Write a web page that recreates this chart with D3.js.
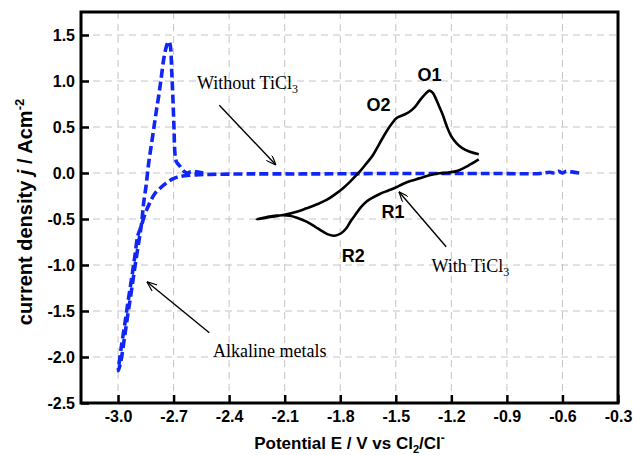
<!DOCTYPE html>
<html>
<head>
<meta charset="utf-8">
<script src="https://cdn.jsdelivr.net/npm/d3@7"></script>
<style>
  html, body { margin: 0; padding: 0; background: #fff; }
  svg { display: block; }
</style>
</head>
<body>
<div id="chart"></div>
<script>
// potential E (V vs Cl2/Cl-) and current density j (A cm^-2)
// blank melt, scan from -0.5 V to -3.0 V and back
const blankE = [-0.51, -0.55, -0.58, -0.60, -0.62, -0.64, -0.67, -0.72, -1.0, -1.5, -2.0, -2.3, -2.5,
  -2.58, -2.64, -2.68, -2.71, -2.74, -2.77, -2.80, -2.83, -2.855, -2.875, -2.893, -2.909, -2.927,
  -2.946, -2.964, -2.983, -2.998,
  -2.985, -2.966, -2.948, -2.929, -2.911, -2.892, -2.873, -2.862, -2.848, -2.835, -2.822, -2.808,
  -2.795, -2.781, -2.767, -2.754, -2.741, -2.731, -2.725, -2.719, -2.715, -2.710, -2.704, -2.698,
  -2.692, -2.684, -2.664, -2.645, -2.628, -2.605, -2.575, -2.54];
const blankJ = [0.0, 0.012, 0.02, 0.0, 0.018, 0.0, 0.008, -0.005, -0.005, -0.005, -0.01, -0.01, -0.015,
  -0.02, -0.03, -0.045, -0.07, -0.11, -0.16, -0.22, -0.33, -0.45, -0.58, -0.68, -0.90, -1.15,
  -1.40, -1.65, -1.90, -2.15,
  -2.05, -1.80, -1.55, -1.30, -1.05, -0.80, -0.55, -0.33, -0.13, 0.10, 0.28, 0.47,
  0.65, 0.83, 1.03, 1.23, 1.36, 1.42, 1.43, 1.40, 1.34, 1.10, 0.83, 0.50,
  0.20, 0.12, 0.07, 0.02, 0.0, 0.015, 0.012, 0.0];

// melt with TiCl3, scan from -1.05 V to -2.25 V and back
const ticlE = [-1.052, -1.10, -1.165, -1.215, -1.264, -1.318, -1.372, -1.417, -1.462, -1.497, -1.54,
  -1.587, -1.625, -1.659, -1.688, -1.713, -1.742, -1.767, -1.795, -1.830, -1.862, -1.893, -1.935,
  -1.982, -2.030, -2.072, -2.144, -2.20, -2.251,
  -2.20, -2.108, -2.04, -1.982, -1.925, -1.874, -1.83, -1.785, -1.74, -1.695, -1.66, -1.623,
  -1.588, -1.551, -1.52, -1.497, -1.46, -1.43, -1.40, -1.37, -1.34, -1.318, -1.30, -1.282,
  -1.265, -1.246, -1.225, -1.201, -1.17, -1.139, -1.10, -1.052];
const ticlJ = [0.149, 0.09, 0.025, 0.005, -0.003, -0.025, -0.058, -0.085, -0.120, -0.155, -0.19,
  -0.228, -0.268, -0.312, -0.37, -0.438, -0.52, -0.601, -0.655, -0.682, -0.67, -0.638, -0.585,
  -0.529, -0.49, -0.464, -0.462, -0.48, -0.503,
  -0.485, -0.457, -0.425, -0.384, -0.34, -0.293, -0.235, -0.166, -0.08, 0.014, 0.10, 0.196,
  0.32, 0.449, 0.54, 0.595, 0.63, 0.66, 0.71, 0.79, 0.86, 0.895, 0.87, 0.80,
  0.72, 0.63, 0.51, 0.40, 0.32, 0.268, 0.23, 0.203];

const xTicks = [-3.0, -2.7, -2.4, -2.1, -1.8, -1.5, -1.2, -0.9, -0.6, -0.3];
const yTicks = [1.5, 1.0, 0.5, 0.0, -0.5, -1.0, -1.5, -2.0, -2.5];

const width = 633, height = 455;
const margin = {top: 12, right: 15, bottom: 52, left: 81};

const svg = d3.select("#chart").append("svg")
    .attr("width", width)
    .attr("height", height);

const x = d3.scaleLinear().domain([-3.2, -0.3]).range([margin.left, width - margin.right]);
const y = d3.scaleLinear().domain([-2.5, 1.75]).range([height - margin.bottom, margin.top]);

const sans = "'Liberation Sans', Arial, sans-serif";
const serif = "'Liberation Serif', 'Times New Roman', serif";

// grid
svg.append("g").selectAll("line")
    .data(xTicks.filter(d => d > -3.2 && d < -0.3))
    .join("line")
    .attr("x1", d => x(d)).attr("x2", d => x(d))
    .attr("y1", y.range()[1]).attr("y2", y.range()[0])
    .attr("stroke", "#c4c4c4")
    .attr("stroke-dasharray", "7,5");

svg.append("g").selectAll("line")
    .data(yTicks.filter(d => d > -2.5))
    .join("line")
    .attr("x1", x.range()[0]).attr("x2", x.range()[1])
    .attr("y1", d => y(d)).attr("y2", d => y(d))
    .attr("stroke", "#c4c4c4")
    .attr("stroke-dasharray", "7,5");

// axes (ticks point inwards)
const fmt = d => d.toFixed(1);

const xAxis = svg.append("g")
    .attr("transform", `translate(0,${y.range()[0]})`)
    .call(d3.axisBottom(x).tickValues(xTicks).tickFormat(fmt).tickSizeInner(-8).tickSizeOuter(0).tickPadding(8));

const yAxis = svg.append("g")
    .attr("transform", `translate(${x.range()[0]},0)`)
    .call(d3.axisLeft(y).tickValues(yTicks).tickFormat(fmt).tickSizeInner(-8).tickSizeOuter(0).tickPadding(6));

[xAxis, yAxis].forEach(a => {
    a.select(".domain").remove();
    a.selectAll(".tick line").attr("stroke", "#000").attr("stroke-width", 2.5);
    a.selectAll(".tick text")
        .attr("fill", "#000")
        .style("font-family", sans)
        .style("font-size", "16px")
        .style("font-weight", "bold");
});

// curves
const line = d3.line()
    .x(d => x(d[0]))
    .y(d => y(d[1]))
    .curve(d3.curveCatmullRom.alpha(0.5));

svg.append("path")
    .datum(blankE.map((e, i) => [e, blankJ[i]]))
    .attr("d", line)
    .attr("fill", "none")
    .attr("stroke", "#1026f5")
    .attr("stroke-width", 3.6)
    .attr("stroke-dasharray", "9,4");

svg.append("path")
    .datum(ticlE.map((e, i) => [e, ticlJ[i]]))
    .attr("d", line)
    .attr("fill", "none")
    .attr("stroke", "#000")
    .attr("stroke-width", 2.6)
    .attr("stroke-linejoin", "round");

// frame
svg.append("rect")
    .attr("x", x.range()[0])
    .attr("y", y.range()[1])
    .attr("width", x.range()[1] - x.range()[0])
    .attr("height", y.range()[0] - y.range()[1])
    .attr("fill", "none")
    .attr("stroke", "#000")
    .attr("stroke-width", 3);

// annotations
svg.append("defs").append("marker")
    .attr("id", "head")
    .attr("markerUnits", "userSpaceOnUse")
    .attr("viewBox", "0 0 10 8")
    .attr("refX", 10).attr("refY", 4)
    .attr("markerWidth", 10).attr("markerHeight", 8)
    .attr("orient", "auto")
    .append("path")
    .attr("d", "M0,0 L10,4 L0,8")
    .attr("fill", "none")
    .attr("stroke", "#000")
    .attr("stroke-width", 1.2);

const arrows = [
    [[-2.453, 0.736], [-2.147, 0.087]],
    [[-1.228, -0.801], [-1.483, -0.203]],
    [[-2.507, -1.736], [-2.844, -1.182]]
];

svg.append("g").selectAll("line")
    .data(arrows)
    .join("line")
    .attr("x1", d => x(d[0][0])).attr("y1", d => y(d[0][1]))
    .attr("x2", d => x(d[1][0])).attr("y2", d => y(d[1][1]))
    .attr("stroke", "#000")
    .attr("stroke-width", 1.4)
    .attr("marker-end", "url(#head)");

function serifNote(e, j, main, sub) {
    const t = svg.append("text")
        .attr("x", x(e)).attr("y", y(j))
        .style("font-family", serif)
        .style("font-size", "18px")
        .attr("fill", "#000")
        .text(main);
    if (sub) {
        t.append("tspan").attr("dy", 4).style("font-size", "12px").text(sub);
    }
    return t;
}

serifNote(-2.573, 0.913, "Without TiCl", "3");
serifNote(-1.307, -1.076, "With TiCl", "3");
serifNote(-2.487, -2.0, "Alkaline metals");

const peaks = [
    {label: "O1", e: -1.383, j: 1.0},
    {label: "O2", e: -1.658, j: 0.674},
    {label: "R1", e: -1.577, j: -0.489},
    {label: "R2", e: -1.792, j: -0.967}
];

svg.append("g").selectAll("text")
    .data(peaks)
    .join("text")
    .attr("x", d => x(d.e)).attr("y", d => y(d.j))
    .style("font-family", sans)
    .style("font-size", "18px")
    .style("font-weight", "bold")
    .text(d => d.label);

// axis titles
const yTitle = svg.append("text")
    .attr("transform", "translate(32,212) rotate(-90)")
    .attr("text-anchor", "middle")
    .style("font-family", sans)
    .style("font-size", "20px")
    .style("font-weight", "bold");
yTitle.append("tspan").text("current density ");
yTitle.append("tspan").style("font-style", "italic").text("j");
yTitle.append("tspan").text(" / Acm");
yTitle.append("tspan").attr("dy", -8).style("font-size", "13px").text("-2");

const xTitle = svg.append("text")
    .attr("x", (x.range()[0] + x.range()[1]) / 2)
    .attr("y", 449)
    .attr("text-anchor", "middle")
    .style("font-family", sans)
    .style("font-size", "17px")
    .style("font-weight", "bold");
xTitle.append("tspan").text("Potential E / V vs Cl");
xTitle.append("tspan").attr("dy", 4).style("font-size", "11px").text("2");
xTitle.append("tspan").attr("dy", -4).text("/Cl");
xTitle.append("tspan").attr("dy", -7).style("font-size", "12px").text("-");
</script>
</body>
</html>
